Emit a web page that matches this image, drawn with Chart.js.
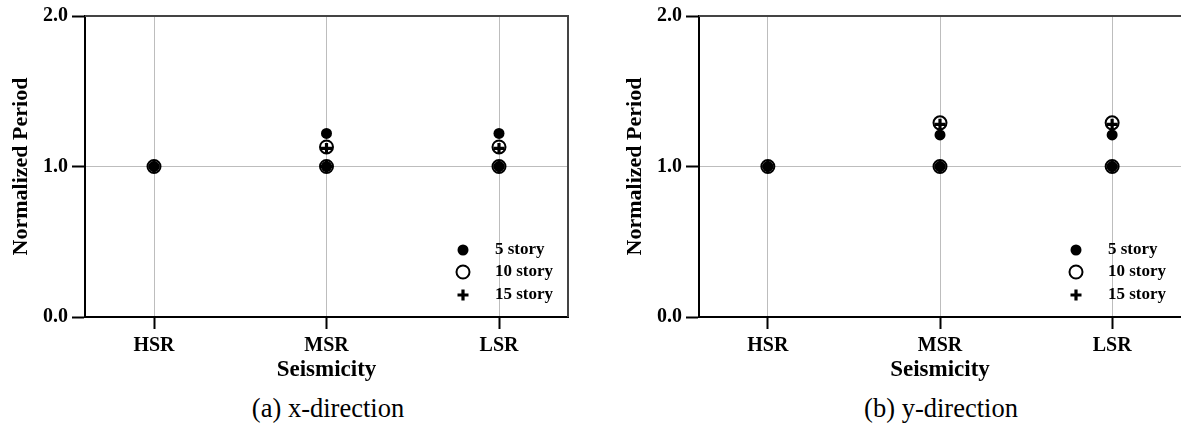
<!DOCTYPE html>
<html>
<head>
<meta charset="utf-8">
<script src="https://cdn.jsdelivr.net/npm/chart.js@4/dist/chart.umd.min.js"></script>
<style>
  html, body { margin: 0; padding: 0; background: #fff; }
  body { width: 1181px; height: 432px; position: relative; overflow: hidden; }
  canvas { position: absolute; top: 0; }
  #cx { left: 0; }
  #cy { left: 614px; }
  .cap { position: absolute; top: 393px; font: 26.5px "Liberation Serif", "Times New Roman", serif; color: #000; transform: translateX(-50%); white-space: nowrap; }
</style>
</head>
<body>
<canvas id="cx" width="570" height="390"></canvas>
<canvas id="cy" width="567" height="390"></canvas>
<div class="cap" style="left:328px">(a) x-direction</div>
<div class="cap" style="left:941px">(b) y-direction</div>
<script>
// Seismicity levels along the x axis
const categories = ['HSR', 'MSR', 'LSR'];
// Reference (HSR-normalized) value shown for every building at each level
const baseline = [1.00, 1.00, 1.00];

// Normalized period, x-direction
const xDir5  = [1.00, 1.22, 1.22];
const xDir10 = [1.00, 1.13, 1.13];
const xDir15 = [1.00, 1.12, 1.12];

// Normalized period, y-direction
const yDir5  = [1.00, 1.21, 1.21];
const yDir10 = [1.00, 1.29, 1.29];
const yDir15 = [1.00, 1.28, 1.28];

const yTicks = [0, 1, 2];
const seriesNames = ['5 story', '10 story', '15 story'];

const SERIF = '"Liberation Serif", "Times New Roman", serif';

const markerStyles = [
  { pointStyle: 'circle', pointRadius: 5.5, pointBorderWidth: 0, pointBackgroundColor: '#000', pointBorderColor: '#000' },
  { pointStyle: 'circle', pointRadius: 6.5, pointBorderWidth: 2, pointBackgroundColor: 'rgba(0,0,0,0)', pointBorderColor: '#000' },
  { pointStyle: 'cross', pointRadius: 5.5, pointBorderWidth: 3.2, pointBackgroundColor: '#000', pointBorderColor: '#000' }
];

function toPoints(values) {
  const pts = [];
  values.forEach((v, i) => {
    pts.push({ x: i + 1, y: baseline[i] });
    if (v !== baseline[i]) pts.push({ x: i + 1, y: v });
  });
  return pts;
}

// Top (and optional right) frame of the plotting area
const framePlugin = {
  id: 'frame',
  beforeDatasetsDraw(chart, args, opts) {
    const { ctx, chartArea: a } = chart;
    ctx.save();
    ctx.strokeStyle = '#444';
    ctx.lineWidth = 2;
    ctx.beginPath();
    ctx.moveTo(a.left, a.top);
    ctx.lineTo(a.right, a.top);
    if (opts.right) ctx.lineTo(a.right, a.bottom);
    ctx.stroke();
    ctx.restore();
  }
};

// Marker key in the lower-right corner of the plotting area
const keyPlugin = {
  id: 'key',
  afterDraw(chart) {
    const { ctx, chartArea: a } = chart;
    const rows = [-67, -45, -22];
    ctx.save();
    chart.data.datasets.forEach((ds, i) => {
      const x = a.right - 105;
      const y = a.bottom + rows[i];
      ctx.fillStyle = ds.pointBackgroundColor;
      ctx.strokeStyle = ds.pointBorderColor;
      ctx.lineWidth = ds.pointBorderWidth;
      Chart.helpers.drawPoint(ctx, {
        pointStyle: ds.pointStyle, radius: ds.pointRadius, rotation: 0, borderWidth: ds.pointBorderWidth
      }, x, y);
      ctx.fillStyle = '#000';
      ctx.font = 'bold 17px ' + SERIF;
      ctx.textAlign = 'left';
      ctx.textBaseline = 'middle';
      ctx.fillText(ds.label, a.right - 73, y);
    });
    ctx.restore();
  }
};

function makeChart(id, series, rightPad, rightFrame) {
  const datasets = series.map((vals, i) => Object.assign({
    label: seriesNames[i],
    data: toPoints(vals),
    showLine: false
  }, markerStyles[i]));

  return new Chart(document.getElementById(id), {
    type: 'scatter',
    data: { datasets },
    plugins: [framePlugin, keyPlugin],
    options: {
      responsive: false,
      animation: false,
      devicePixelRatio: 1,
      layout: { autoPadding: false, padding: { top: 16, right: rightPad, left: 0, bottom: 0 } },
      plugins: {
        legend: { display: false },
        tooltip: { enabled: false },
        frame: { right: rightFrame }
      },
      scales: {
        x: {
          type: 'linear',
          min: 0.6,
          max: 3.4,
          afterBuildTicks: (scale) => { scale.ticks = categories.map((c, i) => ({ value: i + 1 })); },
          afterFit: (scale) => {
            scale.height = 73;
            scale.paddingLeft = 0;
            scale.paddingRight = 0;
          },
          ticks: {
            callback: (v) => categories[Math.round(v) - 1],
            color: '#000',
            padding: 5,
            maxRotation: 0,
            font: { family: SERIF, size: 20, weight: 'bold' }
          },
          grid: { color: '#bdbdbd', lineWidth: 1, tickLength: 12, tickColor: '#000', tickWidth: 2 },
          border: { color: '#000', width: 2 },
          title: {
            display: true,
            text: 'Seismicity',
            color: '#000',
            padding: { top: 0, bottom: 6 },
            font: { family: SERIF, size: 23, weight: 'bold', lineHeight: 1.2 }
          }
        },
        y: {
          type: 'linear',
          min: 0,
          max: 2,
          afterBuildTicks: (scale) => { scale.ticks = yTicks.map(v => ({ value: v })); },
          afterFit: (scale) => {
            scale.width = 85;
            scale.paddingTop = 0;
            scale.paddingBottom = 0;
          },
          ticks: {
            callback: (v) => v.toFixed(1),
            color: '#000',
            padding: 4,
            font: { family: SERIF, size: 20, weight: 'bold' }
          },
          grid: { color: '#bdbdbd', lineWidth: 1, tickLength: 13, tickColor: '#000', tickWidth: 2 },
          border: { color: '#000', width: 2 },
          title: {
            display: true,
            text: 'Normalized Period',
            color: '#000',
            padding: { top: 8, bottom: 0 },
            font: { family: SERIF, size: 22, weight: 'bold', lineHeight: 1.2 }
          }
        }
      }
    }
  });
}

makeChart('cx', [xDir5, xDir10, xDir15], 2, true);
makeChart('cy', [yDir5, yDir10, yDir15], 0, false);
</script>
</body>
</html>
